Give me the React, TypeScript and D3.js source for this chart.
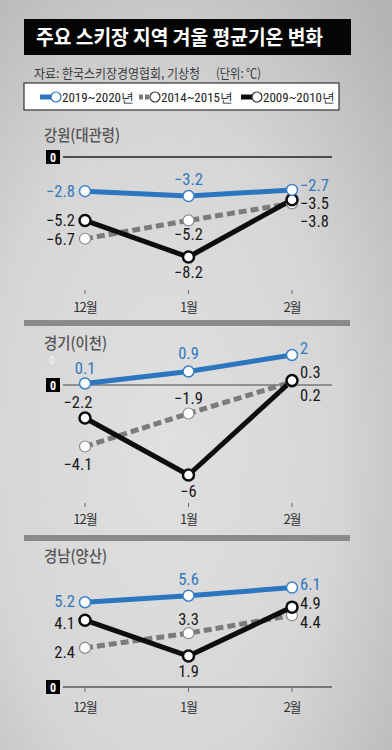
import React from "react";
import * as d3 from "d3";

const months = ["12월", "1월", "2월"];
const seriesNames = ["2019~2020년", "2014~2015년", "2009~2010년"];
const regions = ["강원(대관령)", "경기(이천)", "경남(양산)"];
const gangwon2019 = [-2.8, -3.2, -2.7];
const gangwon2014 = [-6.7, -5.2, -3.8];
const gangwon2009 = [-5.2, -8.2, -3.5];
const gyeonggi2019 = [0.1, 0.9, 2];
const gyeonggi2014 = [-4.1, -1.9, 0.2];
const gyeonggi2009 = [-2.2, -6, 0.3];
const gyeongnam2019 = [5.2, 5.6, 6.1];
const gyeongnam2014 = [2.4, 3.3, 4.4];
const gyeongnam2009 = [4.1, 1.9, 4.9];

const W = 392;
const H = 750;
const NUM_FONT = "'Liberation Sans Narrow', 'Roboto Condensed', 'Liberation Sans', Arial, sans-serif";
const KR_FONT = "'Noto Sans CJK KR', 'Noto Sans', sans-serif";

const BLUE = "#2b76bf";
const BLUE_TXT = "#3079c0";
const GREY = "#7b7b7b";
const BLACK = "#0d0d0d";

type Place = [string, number, number]; // anchor L/R/A/B, dx, dy
const layouts = [
  {
    zeroY: 157, k: 12.2, titleY: 141, titleLen: 76, tickY: 290, monthY: 312, zeroColor: "#222", zeroW: 1.3,
    place: [
      [["L", 0, 0], ["A", 0, -11], ["R", 0, -4]],
      [["L", 0, 1], ["B", 0, 20], ["R", 0, 18]],
      [["L", 0, 0], ["B", 0, 21], ["R", 0, 4]],
    ] as Place[][],
  },
  {
    zeroY: 385, k: 15, titleY: 349, titleLen: 63, tickY: 503, monthY: 524, zeroColor: "#777", zeroW: 1.6,
    place: [
      [["A", 0, -10], ["A", 0, -13], ["R", 0, -7]],
      [["B", -7, 23], ["A", 0, -10], ["R", 0, 13]],
      [["A", -7, -10], ["B", 0, 22], ["R", 0, -8]],
    ] as Place[][],
  },
  {
    zeroY: 687, k: 16.3, titleY: 562, titleLen: 63, tickY: 688, monthY: 712, zeroColor: "#777", zeroW: 2,
    place: [
      [["L", 0, -1], ["A", 0, -11], ["R", 0, -3]],
      [["L", 0, 5], ["A", 0, -8], ["R", 0, 7]],
      [["L", 0, 3], ["B", 0, 21], ["R", 0, -4]],
    ] as Place[][],
  },
];

const panelData = [
  [gangwon2019, gangwon2014, gangwon2009],
  [gyeonggi2019, gyeonggi2014, gyeonggi2009],
  [gyeongnam2019, gyeongnam2014, gyeongnam2009],
];

const x = d3.scalePoint<string>().domain(months).range([85, 292]).padding(0);
const fmt = (v: number) => d3.format("")(v).replace("-", "−");

const seriesStyle = [
  { stroke: BLUE, width: 5, dash: undefined as string | undefined, cStroke: "#3b82c8", cW: 1.5, txt: BLUE_TXT },
  { stroke: GREY, width: 5, dash: "8 4", cStroke: "#8a8a8a", cW: 1.2, txt: "#1a1a1a" },
  { stroke: BLACK, width: 5, dash: undefined, cStroke: BLACK, cW: 2.5, txt: "#1a1a1a" },
];

function Panel({ idx }: { idx: number }) {
  const L = layouts[idx];
  const y = d3.scaleLinear().domain([0, 1]).range([L.zeroY, L.zeroY - L.k]);
  const line = d3
    .line<number>()
    .x((_, i) => x(months[i]) as number)
    .y((v) => y(v));
  const order = [1, 2, 0];
  return (
    <g>
      <text
        x={44}
        y={L.titleY}
        fontFamily={KR_FONT}
        fontSize={16}
        fontWeight={500}
        fill="#555"
        textLength={L.titleLen}
        lengthAdjust="spacingAndGlyphs"
      >
        {regions[idx]}
      </text>
      <line x1={63} x2={332} y1={L.zeroY} y2={L.zeroY} stroke={L.zeroColor} strokeWidth={L.zeroW} />
      <rect x={46} y={L.zeroY - 7} width={14} height={14} fill="#000" />
      <text x={53} y={L.zeroY + 4.5} textAnchor="middle" fontFamily={NUM_FONT} fontSize={12} fontWeight="bold" fill="#fff">
        0
      </text>
      {months.map((m) => (
        <g key={m}>
          <line x1={x(m)} x2={x(m)} y1={L.tickY} y2={L.tickY + 4} stroke="#666" strokeWidth={1} />
          <text x={x(m)} y={L.monthY} textAnchor="middle" fontFamily={KR_FONT} fontSize={13} fill="#333" letterSpacing={-1}>
            {m}
          </text>
        </g>
      ))}
      {order.map((s) => {
        const st = seriesStyle[s];
        return (
          <path
            key={"l" + s}
            d={line(panelData[idx][s]) || ""}
            fill="none"
            stroke={st.stroke}
            strokeWidth={st.width}
            strokeDasharray={st.dash}
            strokeLinejoin="round"
          />
        );
      })}
      {order.map((s) => {
        const st = seriesStyle[s];
        return panelData[idx][s].map((v, i) => (
          <circle
            key={"c" + s + i}
            cx={x(months[i])}
            cy={y(v)}
            r={5.5}
            fill="#fff"
            stroke={st.cStroke}
            strokeWidth={st.cW}
          />
        ));
      })}
      {order.map((s) => {
        const st = seriesStyle[s];
        return panelData[idx][s].map((v, i) => {
          const [a, dx, dy] = L.place[s][i];
          const px = x(months[i]) as number;
          const py = y(v);
          let tx = px + dx;
          let ty = py + dy;
          let anchor = "middle";
          if (a === "L") {
            tx = 75 + dx;
            anchor = "end";
            ty = py + dy + 5.5;
          } else if (a === "R") {
            tx = 300 + dx;
            anchor = "start";
            ty = py + dy + 5.5;
          }
          return (
            <text key={"t" + s + i} x={tx} y={ty} textAnchor={anchor} fontFamily={NUM_FONT} fontSize={16.5} fill={st.txt}>
              {fmt(v)}
            </text>
          );
        });
      })}
    </g>
  );
}

export default function App() {
  const legendX = [40, 139, 241];
  return (
    <svg width={W} height={H} style={{ position: "absolute", left: 0, top: 0 }}>
      <defs>
        <radialGradient id="bg" cx="0.42" cy="0.6" r="0.8">
          <stop offset="0" stopColor="#e0e0e0" />
          <stop offset="0.55" stopColor="#d6d6d6" />
          <stop offset="1" stopColor="#b4b4b4" />
        </radialGradient>
      </defs>
      <rect x={0} y={0} width={W} height={H} fill="url(#bg)" />
      <rect x={24} y={19} width={327} height={36} fill="#050505" />
      <text
        x={36}
        y={45}
        fontFamily={KR_FONT}
        fontSize={20}
        fontWeight="bold"
        fill="#fff"
        textLength={287}
        lengthAdjust="spacingAndGlyphs"
      >
        주요 스키장 지역 겨울 평균기온 변화
      </text>
      <text x={34} y={78} fontFamily={KR_FONT} fontSize={13} fill="#3a3a3a" textLength={166} lengthAdjust="spacingAndGlyphs">
        자료: 한국스키장경영협회, 기상청
      </text>
      <text x={216} y={78} fontFamily={KR_FONT} fontSize={13} fill="#3a3a3a" textLength={45} lengthAdjust="spacingAndGlyphs">
        (단위: ℃)
      </text>
      <rect x={24} y={83} width={315} height={27} fill="#fff" stroke="#333" strokeWidth={1.2} />
      {seriesNames.map((n, i) => {
        const st = seriesStyle[i];
        const lx = legendX[i];
        return (
          <g key={n}>
            <line x1={lx} x2={lx + 12} y1={97} y2={97} stroke={st.stroke} strokeWidth={5} strokeDasharray={st.dash ? "4 2" : undefined} />
            <circle cx={lx + 16} cy={97} r={5} fill="#fff" stroke={i === 0 ? BLUE : "#333"} strokeWidth={1.2} />
            <text x={lx + 22} y={101.5} fontFamily={NUM_FONT} fontSize={13} fill="#222" textLength={72} lengthAdjust="spacingAndGlyphs">
              {n}
            </text>
          </g>
        );
      })}
      <rect x={24} y={320} width={326} height={6} fill="#8a8a8a" />
      <rect x={24} y={535} width={326} height={6} fill="#8a8a8a" />
      <text x={52} y={364} textAnchor="middle" fontFamily={NUM_FONT} fontSize={10} fill="#fff" opacity={0.85}>
        0
      </text>
      {[0, 1, 2].map((i) => (
        <Panel key={i} idx={i} />
      ))}
    </svg>
  );
}
